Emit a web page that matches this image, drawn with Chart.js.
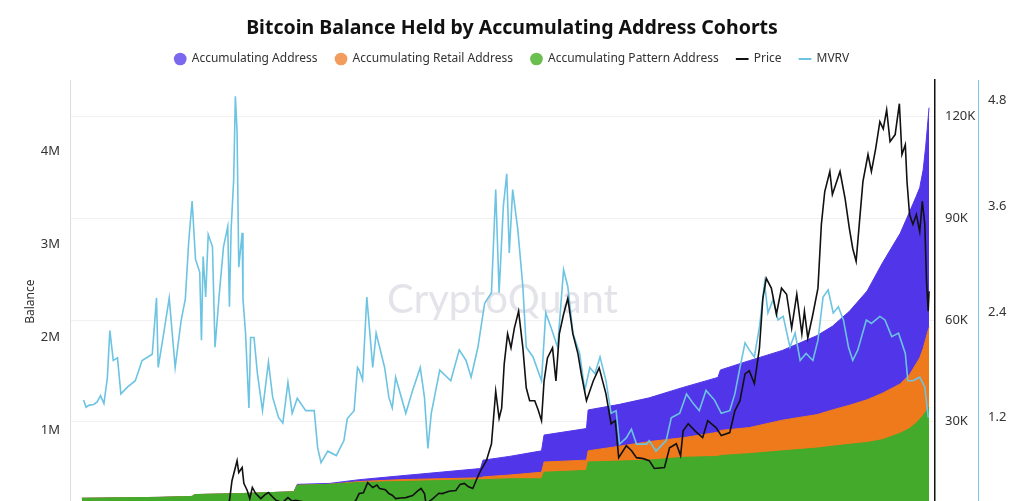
<!DOCTYPE html>
<html>
<head>
<meta charset="utf-8">
<title>Bitcoin Balance Held by Accumulating Address Cohorts</title>
<script src="https://cdn.jsdelivr.net/npm/chart.js@4.4.1/dist/chart.umd.min.js"></script>
<style>
  html, body { margin: 0; padding: 0; background: #fff; overflow: hidden; }
  #wrap { width: 1024px; height: 560px; position: relative; }
</style>
</head>
<body>
<div id="wrap"><canvas id="myChart"></canvas></div>
<script>
// balances (million BTC)
const balanceYears = [2016.14, 2017.05, 2017.44, 2017.47, 2017.99, 2018.64, 2018.68, 2019.06, 2019.41, 2019.88,
  2020.36, 2020.84, 2020.87, 2021.18, 2021.56, 2021.59, 2022.09, 2022.11, 2022.48, 2022.83,
  2023.22, 2023.64, 2023.67, 2024.01, 2024.40, 2024.81, 2024.99, 2025.19, 2025.40, 2025.58,
  2025.79, 2025.90, 2025.98, 2026.02, 2026.06, 2026.09, 2026.13];
const accumulating = [0.27, 0.28, 0.29, 0.31, 0.32, 0.34, 0.42, 0.43, 0.47, 0.51,
  0.55, 0.59, 0.68, 0.72, 0.78, 0.95, 1.02, 1.22, 1.28, 1.35,
  1.46, 1.57, 1.65, 1.75, 1.86, 2.02, 2.12, 2.28, 2.50, 2.80,
  3.12, 3.35, 3.52, 3.61, 3.80, 4.05, 4.47];
const retail = [0.27, 0.28, 0.29, 0.31, 0.32, 0.34, 0.41, 0.42, 0.45, 0.47,
  0.48, 0.49, 0.50, 0.52, 0.55, 0.66, 0.68, 0.78, 0.83, 0.88,
  0.92, 0.98, 1.00, 1.03, 1.11, 1.17, 1.22, 1.27, 1.33, 1.40,
  1.50, 1.60, 1.72, 1.78, 1.88, 1.98, 2.11];
const pattern = [0.27, 0.28, 0.29, 0.31, 0.32, 0.34, 0.41, 0.42, 0.44, 0.45,
  0.46, 0.47, 0.47, 0.48, 0.48, 0.55, 0.57, 0.66, 0.67, 0.68,
  0.71, 0.72, 0.73, 0.75, 0.78, 0.81, 0.83, 0.85, 0.87, 0.90,
  0.97, 1.02, 1.08, 1.12, 1.16, 1.20, 1.25];

// price (thousand USD)
const priceYears = [2016.14, 2016.50, 2016.90, 2017.05, 2017.30, 2017.45, 2017.60, 2017.70, 2017.78, 2017.85,
  2017.88, 2017.91, 2017.95, 2017.97, 2017.99, 2018.03, 2018.05, 2018.09, 2018.12, 2018.15,
  2018.19, 2018.25, 2018.30, 2018.34, 2018.39, 2018.43, 2018.48, 2018.51, 2018.57, 2018.62,
  2018.66, 2018.75, 2018.85, 2018.90, 2018.96, 2019.10, 2019.25, 2019.32, 2019.37, 2019.41,
  2019.46, 2019.51, 2019.57, 2019.62, 2019.65, 2019.72, 2019.76, 2019.80, 2019.84, 2019.90,
  2019.96, 2020.04, 2020.10, 2020.14, 2020.18, 2020.20, 2020.24, 2020.28, 2020.35, 2020.39,
  2020.47, 2020.55, 2020.60, 2020.65, 2020.70, 2020.75, 2020.80, 2020.84, 2020.91, 2020.97,
  2021.02, 2021.06, 2021.09, 2021.12, 2021.16, 2021.20, 2021.24, 2021.29, 2021.34, 2021.38,
  2021.42, 2021.48, 2021.52, 2021.56, 2021.59, 2021.63, 2021.69, 2021.73, 2021.77, 2021.82,
  2021.87, 2021.93, 2021.99, 2022.03, 2022.09, 2022.17, 2022.24, 2022.32, 2022.38, 2022.43,
  2022.47, 2022.56, 2022.62, 2022.68, 2022.76, 2022.83, 2022.89, 2023.01, 2023.07, 2023.15,
  2023.20, 2023.23, 2023.29, 2023.37, 2023.46, 2023.52, 2023.62, 2023.68, 2023.78, 2023.84,
  2023.90, 2023.96, 2024.01, 2024.07, 2024.13, 2024.17, 2024.21, 2024.27, 2024.33, 2024.39,
  2024.45, 2024.51, 2024.57, 2024.63, 2024.66, 2024.70, 2024.76, 2024.82, 2024.86, 2024.90,
  2024.96, 2024.99, 2025.04, 2025.08, 2025.14, 2025.19, 2025.23, 2025.27, 2025.31, 2025.35,
  2025.41, 2025.45, 2025.50, 2025.55, 2025.59, 2025.63, 2025.67, 2025.73, 2025.78, 2025.81,
  2025.85, 2025.87, 2025.90, 2025.94, 2025.98, 2026.02, 2026.05, 2026.08, 2026.10, 2026.12,
  2026.13];
const price = [0.4, 0.65, 0.74, 1.0, 1.3, 2.5, 2.7, 4.3, 5.8, 6.2,
  6.6, 12.6, 16.5, 18.5, 15.0, 16.5, 11.8, 9.7, 7.3, 10.6,
  8.8, 7.3, 8.5, 9.1, 7.8, 6.8, 6.4, 6.3, 7.6, 6.6,
  6.8, 6.4, 5.5, 3.8, 3.6, 3.7, 4.1, 5.3, 6.8, 8.8,
  9.0, 12.0, 10.6, 11.3, 10.3, 9.9, 8.8, 8.3, 7.3, 7.5,
  7.6, 8.2, 9.6, 10.3, 8.8, 5.5, 6.6, 7.3, 8.9, 8.8,
  9.5, 9.7, 11.5, 11.8, 10.8, 10.3, 13.3, 15.5, 18.5, 23.5,
  39.0, 31.0, 34.0, 47.0, 55.9, 51.8, 57.6, 62.6, 51.8, 40.0,
  36.2, 36.2, 33.5, 30.3, 42.0, 48.8, 51.8, 42.0, 55.9, 61.7,
  66.4, 55.9, 50.0, 44.0, 36.2, 42.0, 45.9, 38.2, 29.4, 30.3,
  19.4, 22.9, 21.5, 19.4, 19.1, 18.5, 16.2, 16.5, 22.3, 23.5,
  20.0, 27.3, 29.4, 27.3, 25.3, 30.3, 28.2, 25.9, 26.8, 33.2,
  36.2, 44.1, 45.0, 41.2, 51.8, 66.4, 72.3, 69.4, 61.7, 69.4,
  67.6, 57.6, 67.6, 55.9, 62.6, 54.7, 61.7, 69.4, 88.2, 97.9,
  103.8, 97.0, 100.8, 103.8, 95.8, 87.0, 81.1, 77.3, 89.1, 100.8,
  108.8, 103.8, 110.5, 118.5, 116.4, 122.0, 112.6, 114.7, 123.8, 108.8,
  111.7, 100.8, 91.1, 88.2, 91.1, 86.1, 95.0, 88.2, 71.4, 62.6,
  68.5];

// MVRV ratio
const mvrvYears = [2016.16, 2016.19, 2016.22, 2016.28, 2016.32, 2016.36, 2016.40, 2016.44, 2016.47, 2016.51,
  2016.56, 2016.60, 2016.68, 2016.77, 2016.85, 2016.97, 2017.02, 2017.04, 2017.11, 2017.17,
  2017.24, 2017.31, 2017.36, 2017.40, 2017.44, 2017.48, 2017.53, 2017.55, 2017.57, 2017.60,
  2017.63, 2017.68, 2017.71, 2017.76, 2017.81, 2017.86, 2017.88, 2017.90, 2017.93, 2017.95,
  2017.97, 2017.99, 2018.03, 2018.04, 2018.07, 2018.11, 2018.13, 2018.17, 2018.21, 2018.27,
  2018.34, 2018.39, 2018.46, 2018.51, 2018.57, 2018.62, 2018.68, 2018.78, 2018.88, 2018.92,
  2018.96, 2019.04, 2019.14, 2019.23, 2019.27, 2019.35, 2019.39, 2019.41, 2019.45, 2019.50,
  2019.57, 2019.61, 2019.71, 2019.76, 2019.80, 2019.84, 2019.96, 2020.04, 2020.13, 2020.18,
  2020.22, 2020.26, 2020.36, 2020.49, 2020.59, 2020.67, 2020.73, 2020.81, 2020.89, 2020.97,
  2021.02, 2021.06, 2021.11, 2021.15, 2021.18, 2021.22, 2021.28, 2021.34, 2021.38, 2021.46,
  2021.56, 2021.61, 2021.67, 2021.75, 2021.82, 2021.87, 2021.93, 2022.01, 2022.07, 2022.13,
  2022.19, 2022.25, 2022.32, 2022.38, 2022.44, 2022.48, 2022.56, 2022.62, 2022.68, 2022.80,
  2022.83, 2022.91, 2023.03, 2023.09, 2023.19, 2023.27, 2023.35, 2023.42, 2023.50, 2023.60,
  2023.68, 2023.78, 2023.84, 2023.90, 2023.96, 2024.01, 2024.07, 2024.13, 2024.19, 2024.23,
  2024.29, 2024.35, 2024.41, 2024.49, 2024.55, 2024.61, 2024.68, 2024.76, 2024.82, 2024.88,
  2024.94, 2025.00, 2025.06, 2025.12, 2025.18, 2025.23, 2025.29, 2025.39, 2025.45, 2025.55,
  2025.61, 2025.69, 2025.77, 2025.85, 2025.88, 2025.94, 2026.02, 2026.08, 2026.12];
const mvrv = [1.40, 1.32, 1.34, 1.35, 1.38, 1.45, 1.36, 1.65, 2.19, 1.85,
  1.88, 1.47, 1.55, 1.62, 1.85, 1.92, 2.56, 1.77, 2.19, 2.56,
  1.77, 2.30, 2.55, 3.20, 3.66, 3.00, 2.85, 2.08, 3.03, 2.57,
  3.28, 3.14, 2.00, 2.60, 3.14, 3.37, 2.46, 3.34, 3.90, 4.85,
  4.45, 2.91, 3.30, 2.54, 2.16, 1.31, 2.11, 2.11, 1.70, 1.28,
  1.83, 1.43, 1.20, 1.14, 1.60, 1.25, 1.42, 1.28, 1.28, 0.86,
  0.69, 0.82, 0.77, 0.94, 1.19, 1.28, 1.77, 1.74, 1.63, 2.57,
  1.77, 2.16, 1.77, 1.43, 1.31, 1.66, 1.25, 1.51, 1.77, 1.43,
  0.85, 1.25, 1.74, 1.62, 1.97, 1.85, 1.66, 2.00, 2.50, 2.62,
  3.79, 2.62, 3.60, 3.97, 3.07, 3.79, 3.34, 2.69, 2.00, 1.89,
  1.62, 2.39, 2.23, 2.00, 2.88, 2.69, 2.16, 1.93, 1.51, 1.77,
  1.70, 1.89, 1.62, 1.25, 1.28, 0.90, 0.97, 1.07, 0.90, 0.90,
  0.94, 0.82, 0.94, 1.20, 1.25, 1.47, 1.36, 1.28, 1.51, 1.40,
  1.25, 1.28, 1.47, 1.77, 2.05, 1.97, 1.89, 2.23, 2.73, 2.39,
  2.54, 2.31, 2.35, 2.00, 2.16, 1.85, 1.93, 1.85, 2.08, 2.57,
  2.65, 2.39, 2.46, 2.31, 2.00, 1.85, 1.97, 2.31, 2.27, 2.35,
  2.31, 2.12, 2.16, 1.93, 1.62, 1.62, 1.66, 1.55, 1.20];

const toPoints = (xs, ys) => xs.map((x, i) => ({ x: x, y: ys[i] }));

Chart.defaults.font.family = "'Noto Sans', sans-serif";

// faint CryptoQuant mark behind the series
const watermark = {
  id: 'watermark',
  beforeDatasetsDraw(chart) {
    const { ctx, chartArea } = chart;
    ctx.save();
    ctx.font = "40px 'Lato'";
    ctx.fillStyle = '#e3e3ea';
    ctx.textAlign = 'center';
    ctx.textBaseline = 'alphabetic';
    ctx.fillText('CryptoQuant', (chartArea.left + chartArea.right) / 2, chartArea.top + 233);
    ctx.restore();
  }
};

// legend needs wide gaps between items but a short row, so add a little room under it
const legendGap = {
  id: 'legendGap',
  beforeLayout(chart) {
    const lg = chart.legend;
    if (lg && !lg._gapPatched) {
      const fit = lg.fit;
      lg.fit = function () { fit.call(this); this.height += 5; };
      lg._gapPatched = true;
    }
  }
};

const data = {
  datasets: [
    {
      label: 'Accumulating Address',
      data: toPoints(balanceYears, accumulating),
      yAxisID: 'y',
      backgroundColor: '#5135e8',
      borderColor: '#5135e8',
      borderWidth: 1,
      fill: 'origin',
      pointStyle: 'circle',
      pointBackgroundColor: '#7b68ee',
      pointBorderWidth: 0,
      order: 4
    },
    {
      label: 'Accumulating Retail Address',
      data: toPoints(balanceYears, retail),
      yAxisID: 'y',
      backgroundColor: '#ee7a1c',
      borderColor: '#ee7a1c',
      borderWidth: 1,
      fill: 'origin',
      pointStyle: 'circle',
      pointBackgroundColor: '#f29d5e',
      pointBorderWidth: 0,
      order: 3
    },
    {
      label: 'Accumulating Pattern Address',
      data: toPoints(balanceYears, pattern),
      yAxisID: 'y',
      backgroundColor: '#43aa2b',
      borderColor: '#43aa2b',
      borderWidth: 1,
      fill: 'origin',
      pointStyle: 'circle',
      pointBackgroundColor: '#6bbf4e',
      pointBorderWidth: 0,
      order: 2
    },
    {
      label: 'Price',
      data: toPoints(priceYears, price),
      yAxisID: 'yPrice',
      borderColor: '#111111',
      backgroundColor: '#111111',
      borderWidth: 1.6,
      fill: false,
      pointStyle: 'line',
      pointBorderWidth: 2,
      order: 0
    },
    {
      label: 'MVRV',
      data: toPoints(mvrvYears, mvrv),
      yAxisID: 'yMvrv',
      borderColor: '#6cc4e2',
      backgroundColor: '#6cc4e2',
      borderWidth: 1.6,
      fill: false,
      pointStyle: 'line',
      pointBorderWidth: 2,
      order: 1
    }
  ]
};

const tickFont = { size: 13 };

const config = {
  type: 'line',
  data: data,
  options: {
    responsive: true,
    maintainAspectRatio: false,
    animation: false,
    layout: { padding: { left: 0, right: 0, top: 0, bottom: 36.6 } },
    elements: { point: { radius: 0, hoverRadius: 0 }, line: { tension: 0 } },
    plugins: {
      title: {
        display: true,
        text: 'Bitcoin Balance Held by Accumulating Address Cohorts',
        color: '#111',
        font: { size: 19.5, weight: 'bold' },
        padding: { top: 17, bottom: -5.4 }
      },
      legend: {
        labels: {
          usePointStyle: true,
          boxWidth: 11,
          boxHeight: 9,
          padding: 18,
          color: '#333',
          font: { size: 12 },
          sort: (a, b) => a.datasetIndex - b.datasetIndex
        }
      },
      tooltip: { enabled: false }
    },
    scales: {
      x: { type: 'linear', min: 2016.0, max: 2026.2, display: false },
      y: {
        position: 'left',
        min: 0,
        max: 4.768,
        ticks: { stepSize: 1, includeBounds: false, padding: 10, color: '#333', font: tickFont,
          callback: v => v + 'M' },
        grid: { display: false, drawTicks: false },
        border: { color: '#dddddd', width: 1 },
        title: { display: true, text: 'Balance', color: '#333', font: { size: 12 },
          padding: { top: 23, bottom: 4 } },
        afterFit: s => { s.width = 70; }
      },
      yPrice: {
        position: 'right',
        min: 0,
        max: 130.8,
        ticks: { stepSize: 30, includeBounds: false, padding: 10, color: '#333', font: tickFont,
          callback: v => v + 'K' },
        grid: { color: '#f1f1f1', drawTicks: false },
        border: { color: '#111', width: 1.5 },
        afterFit: s => { s.width = 43; }
      },
      yMvrv: {
        position: 'right',
        min: 0,
        max: 5.034,
        ticks: { stepSize: 1.2, includeBounds: false, padding: 10, color: '#333', font: tickFont,
          callback: v => v.toFixed(1) },
        grid: { display: false, drawTicks: false },
        border: { color: '#7cc8e6', width: 1 },
        afterFit: s => { s.width = 46; }
      }
    }
  },
  plugins: [watermark, legendGap]
};

const myChart = new Chart(document.getElementById('myChart'), config);
</script>
</body>
</html>
